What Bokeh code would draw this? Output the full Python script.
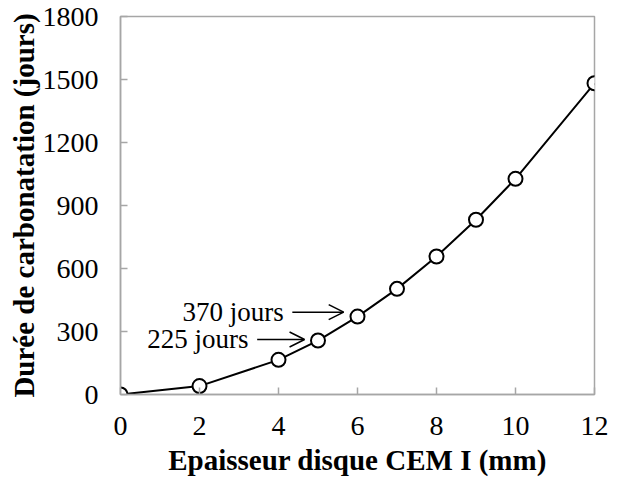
from bokeh.plotting import figure
from bokeh.models import Range1d, FixedTicker, Arrow, OpenHead, Label
from bokeh.embed import file_html
from bokeh.resources import INLINE

thickness_mm = [0, 2, 4, 5, 6, 7, 8, 9, 10, 12]
duration_days = [0, 40, 165, 257, 371, 503, 657, 832, 1027, 1482]
x_ticks = [0, 2, 4, 6, 8, 10, 12]
y_ticks = [0, 300, 600, 900, 1200, 1500, 1800]
annot_texts = ["370 jours", "225 jours"]
annot_points = [(6, 371), (5, 257)]

FONT = "Liberation Serif"
GRAY = "#a6a6a6"

p = figure(width=611, height=478, output_backend="svg", toolbar_location=None,
           x_range=Range1d(0, 12), y_range=Range1d(0, 1800))
p.min_border_left = 120
p.min_border_right = 17
p.min_border_top = 16
p.min_border_bottom = 84
p.outline_line_color = GRAY
p.outline_line_width = 1.5
p.xgrid.visible = False
p.ygrid.visible = False
p.background_fill_color = "white"
p.border_fill_color = "white"

p.xaxis.ticker = FixedTicker(ticks=x_ticks)
p.yaxis.ticker = FixedTicker(ticks=y_ticks)
for ax in (p.xaxis, p.yaxis):
    ax.axis_line_color = GRAY
    ax.axis_line_width = 1.5
    ax.major_tick_line_color = GRAY
    ax.major_tick_line_width = 1.5
    ax.major_tick_in = 7
    ax.major_tick_out = 0
    ax.minor_tick_line_color = None
    ax.major_label_text_font = FONT
    ax.major_label_text_font_size = "28px"
    ax.major_label_text_color = "black"
    ax.axis_label_text_font = FONT
    ax.axis_label_text_font_style = "bold"
    ax.axis_label_text_font_size = "29px"
    ax.axis_label_text_color = "black"
p.xaxis.axis_label = "Epaisseur disque CEM I (mm)"
p.yaxis.axis_label = "Durée de carbonatation (jours)"
p.xaxis.major_label_standoff = 22
p.yaxis.major_label_standoff = 22
p.xaxis.axis_label_standoff = 6
p.yaxis.axis_label_standoff = 0

p.line(thickness_mm, duration_days, line_color="black", line_width=2)
p.scatter(thickness_mm, duration_days, size=14, fill_color="white",
          line_color="black", line_width=2)

arrow_dx = [0.35, 0.34]
arrow_dy = [21, 5]
arrow_len = [1.3, 1.2]
for i, (txt, (px, py)) in enumerate(zip(annot_texts, annot_points)):
    x_end = px - arrow_dx[i]
    y_arrow = py + arrow_dy[i]
    x_start = x_end - arrow_len[i]
    p.add_layout(Arrow(end=OpenHead(size=15, line_width=1.5, line_color="black"),
                       x_start=x_start, y_start=y_arrow, x_end=x_end, y_end=y_arrow,
                       line_width=1.5, line_color="black"))
    p.add_layout(Label(x=x_start - 0.22, y=y_arrow, text=txt, text_align="right",
                       text_baseline="middle", text_font=FONT, text_font_size="27px",
                       text_color="black"))

open("out.html", "w").write(file_html(p, INLINE))
